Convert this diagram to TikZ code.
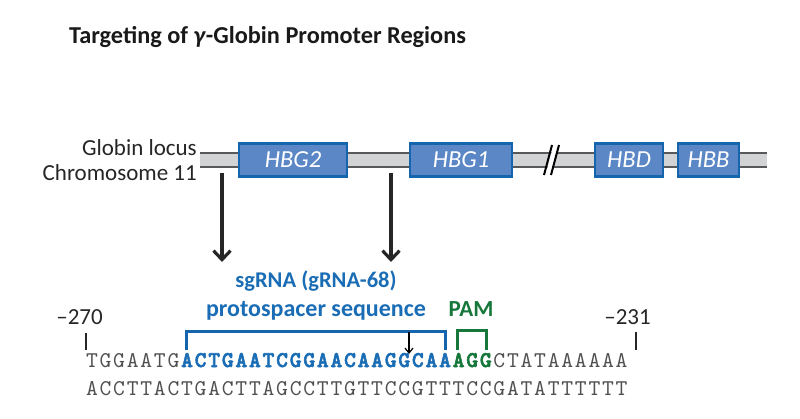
\documentclass[tikz,border=0pt]{standalone}
\usepackage{fontspec}
\newfontfamily\lab{Carlito}
\newfontfamily\seqreg{lmmono10-regular.otf}
\newfontfamily\seqbold{lmmonolt10-bold.otf}[FakeBold=2.5]
\usetikzlibrary{arrows.meta}
\definecolor{boxfill}{HTML}{5B87C6}
\definecolor{boxedge}{HTML}{1564AE}
\definecolor{seqblue}{HTML}{1A6DB5}
\definecolor{pamgreen}{HTML}{16773A}
\definecolor{barfill}{HTML}{D2D3D5}
\definecolor{baredge}{HTML}{58595B}
\definecolor{seqgray}{HTML}{505050}
\def\seqchars#1{\ifx#1\relax\else\makebox[13.58pt][c]{#1}\expandafter\seqchars\fi}
\tikzset{
  gene/.style={draw=boxedge, fill=boxfill, line width=2.4pt, minimum height=33pt,
    inner sep=0pt, text=white, font=\lab\itshape\fontsize{24.5}{26}\selectfont},
  lbl/.style={inner sep=0pt, font=\lab\fontsize{23}{25}\selectfont, text=black!85},
  bigarrow/.style={line width=3.6pt, black!85, -{Straight Barb[length=9pt,width=17pt,line width=3.2pt]}},
  bluelbl/.style={inner sep=0pt, text=seqblue, font=\lab\bfseries\fontsize{23}{25}\selectfont},
  seqtxt/.style={inner sep=0pt, font=\seqreg\fontsize{22.5}{24}\selectfont},
  bracketb/.style={line width=3pt, boxedge},
  bracketg/.style={line width=3pt, pamgreen},
  tick/.style={line width=2.6pt, black!85},
}
\begin{document}
\begin{tikzpicture}[x=1pt,y=-1pt]
\useasboundingbox (0,0) rectangle (800,419);
% title
\node[anchor=base west, inner sep=0pt, font=\lab\bfseries\fontsize{24.3}{26}\selectfont, text=black!90] (title) at (69,43.5)
  {Targeting of \textit{γ}-Globin Promoter Regions};
% chromosome bar
\fill[barfill] (200,153) rectangle (767,167);
\draw[baredge, line width=2pt] (200,153) -- (767,153) (200,167) -- (767,167);
% break mark
\fill[white] (545.5,175) -- (553.5,145) -- (558,145) -- (550,175) -- cycle;
\draw[black, line width=2pt] (544,175) -- (552,145) (551,175) -- (559,145);
% genes
\node[gene, minimum width=108pt] (hbg2) at (293,160) {HBG2};
\node[gene, minimum width=102pt] (hbg1) at (461,160) {HBG1};
\node[gene, minimum width=68pt] (hbd) at (629,160) {HBD};
\node[gene, minimum width=61pt] (hbb) at (708.5,160) {HBB};
% left labels
\node[lbl, anchor=base east] (locus) at (197,156) {Globin locus};
\node[lbl, anchor=base east] (chrom) at (197,181) {Chromosome 11};
% arrows
\coordinate (a1s) at (222,173);
\coordinate (a1e) at (222,262);
\coordinate (a2s) at (391,173);
\coordinate (a2e) at (391,262);
\draw[bigarrow] (a1s) -- (a1e);
\draw[bigarrow] (a2s) -- (a2e);
% labels
\node[bluelbl, anchor=base, font=\lab\bfseries\fontsize{22.5}{24}\selectfont] (sg) at (316,288) {sgRNA (gRNA-68)};
\node[bluelbl, anchor=base, font=\lab\bfseries\fontsize{24}{26}\selectfont] (proto) at (316,317) {protospacer sequence};
\node[bluelbl, anchor=base, text=pamgreen] (pam) at (471,317) {PAM};
% positions
\node[lbl, anchor=base east] (p270) at (103,325) {–270};
\node[lbl, anchor=base east] (p231) at (651,325) {–231};
\coordinate (t1a) at (86,333); \coordinate (t1b) at (86,350);
\coordinate (t2a) at (636,332); \coordinate (t2b) at (636,350);
\draw[tick] (t1a) -- (t1b);
\draw[tick] (t2a) -- (t2b);
% brackets
\coordinate (b1) at (186,350); \coordinate (b2) at (186,332);
\coordinate (b3) at (445,332); \coordinate (b4) at (445,350);
\draw[bracketb] (b1) -- (b2) -- (b3) -- (b4);
\coordinate (g1) at (457,350); \coordinate (g2) at (457,331);
\coordinate (g3) at (486,331); \coordinate (g4) at (486,350);
\draw[bracketg] (g1) -- (g2) -- (g3) -- (g4);
% cut arrow
\coordinate (c1) at (409,332); \coordinate (c2) at (409,354);
\draw[line width=1.2pt, black, -{Straight Barb[length=5pt,width=8pt]}] (c1) -- (c2);
% sequences
\node[seqtxt, anchor=base west] (top) at (85,367)
 {\color{seqgray}\seqchars TGGAATG\relax{\color{seqblue}\seqbold\seqchars ACTGAATCGGAACAAGGCAA\relax}{\color{pamgreen}\seqbold\seqchars AGG\relax}\seqchars CTATAAAAAA\relax};
\node[seqtxt, anchor=base west] (bot) at (85,395)
 {\color{seqgray}\seqchars ACCTTACTGACTTAGCCTTGTTCCGTTTCCGATATTTTTT\relax};
\end{tikzpicture}
\end{document}
